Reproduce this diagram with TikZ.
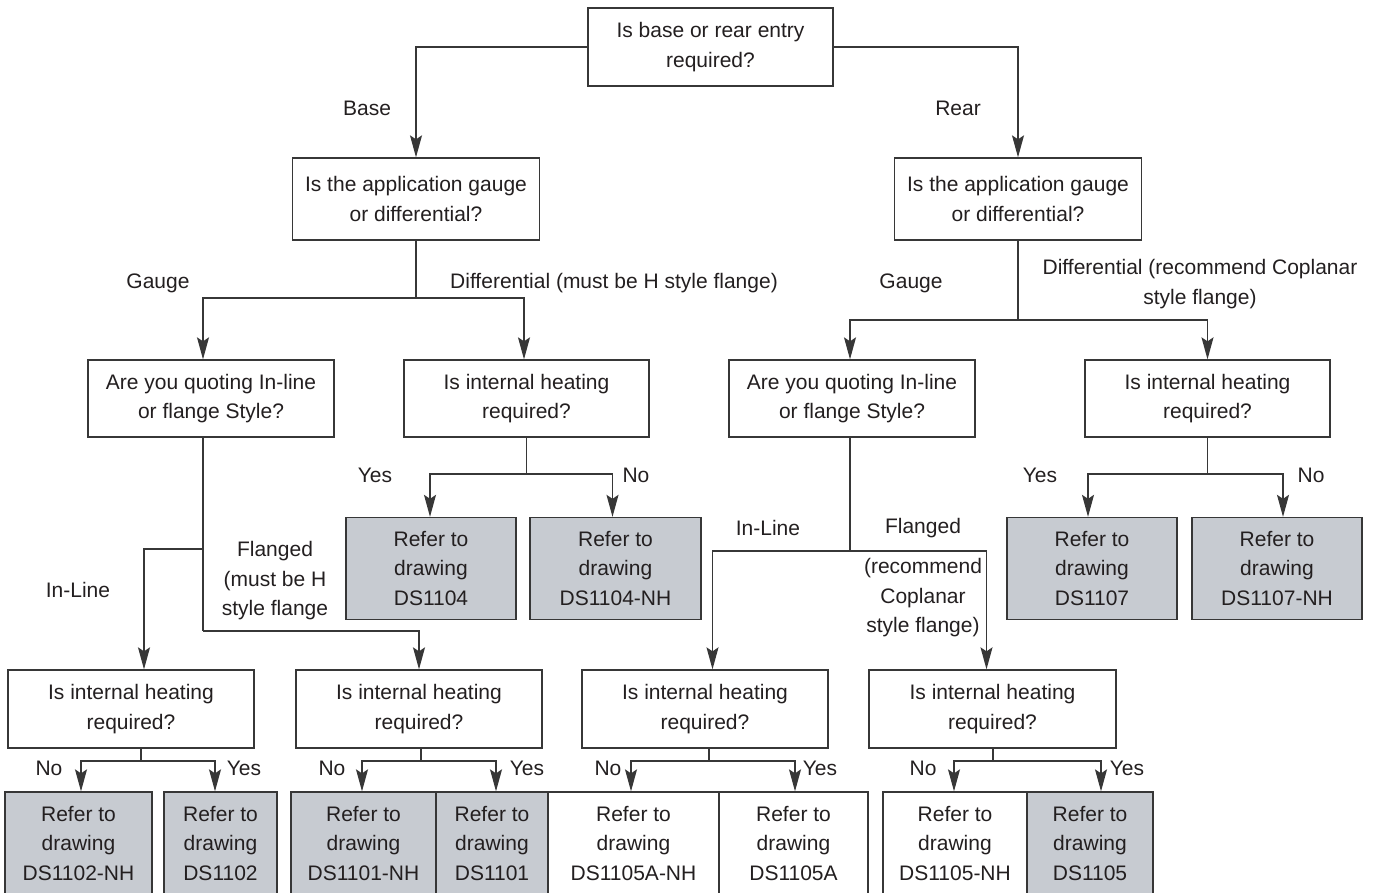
\documentclass[tikz,border=0pt]{standalone}
\usepackage{fontspec}
\setmainfont{Liberation Sans}
\usetikzlibrary{arrows.meta}
\definecolor{leafgray}{RGB}{199,203,209}
\definecolor{linec}{RGB}{55,55,55}
\definecolor{textc}{RGB}{35,31,32}
\tikzset{
  every node/.style={font=\fontsize{21}{29.5}\selectfont, text=textc},
  qbox/.style={draw=linec, line width=1.3pt, fill=white, align=center, inner sep=0pt},
  leaf/.style={qbox, fill=leafgray},
  wleaf/.style={qbox, fill=white},
  lbl/.style={align=center, inner sep=0pt},
  conn/.style={draw=linec, line width=1.3pt},
  arr/.style={conn, -{Stealth[length=22pt,width=12pt,inset=4pt]}}
}
\begin{document}
\begin{tikzpicture}[x=1pt,y=-1pt]
\useasboundingbox (0,0) rectangle (1373,893);
\begin{scope}
\clip (0,0) rectangle (1373,893);
% question boxes
\node[qbox, minimum width=245, minimum height=78] (top) at (710.5,47) {Is base or rear entry\\required?};
\node[qbox, minimum width=247, minimum height=82] (lapp) at (416,199) {Is the application gauge\\or differential?};
\node[qbox, minimum width=247, minimum height=82] (rapp) at (1018,199) {Is the application gauge\\or differential?};
\node[qbox, minimum width=246, minimum height=77] (lq) at (211,398.5) {Are you quoting In-line\\or flange Style?};
\node[qbox, minimum width=245, minimum height=77] (lh) at (526.5,398.5) {Is internal heating\\required?};
\node[qbox, minimum width=246, minimum height=77] (rq) at (852,398.5) {Are you quoting In-line\\or flange Style?};
\node[qbox, minimum width=245, minimum height=77] (rh) at (1207.5,398.5) {Is internal heating\\required?};
\node[qbox, minimum width=246, minimum height=78] (b1) at (131,709) {Is internal heating\\required?};
\node[qbox, minimum width=246, minimum height=78] (b2) at (419,709) {Is internal heating\\required?};
\node[qbox, minimum width=246, minimum height=78] (b3) at (705,709) {Is internal heating\\required?};
\node[qbox, minimum width=247, minimum height=78] (b4) at (992.5,709) {Is internal heating\\required?};
% middle leaves
\node[leaf, minimum width=170, minimum height=102] (d1104) at (431,568.5) {Refer to\\drawing\\DS1104};
\node[leaf, minimum width=171, minimum height=102] (d1104nh) at (615.5,568.5) {Refer to\\drawing\\DS1104-NH};
\node[leaf, minimum width=170, minimum height=102] (d1107) at (1092,568.5) {Refer to\\drawing\\DS1107};
\node[leaf, minimum width=170, minimum height=102] (d1107nh) at (1277,568.5) {Refer to\\drawing\\DS1107-NH};
% bottom leaves
\node[leaf, minimum width=147, minimum height=102] (l1) at (78.5,843) {Refer to\\drawing\\DS1102-NH};
\node[leaf, minimum width=113, minimum height=102] (l2) at (220.5,843) {Refer to\\drawing\\DS1102};
\node[leaf, minimum width=145, minimum height=102] (l3) at (363.5,843) {Refer to\\drawing\\DS1101-NH};
\node[leaf, minimum width=112, minimum height=102] (l4) at (492,843) {Refer to\\drawing\\DS1101};
\node[wleaf, minimum width=171, minimum height=102] (l5) at (633.5,843) {Refer to\\drawing\\DS1105A-NH};
\node[wleaf, minimum width=149, minimum height=102] (l6) at (793.5,843) {Refer to\\drawing\\DS1105A};
\node[wleaf, minimum width=144, minimum height=102] (l7) at (955,843) {Refer to\\drawing\\DS1105-NH};
\node[leaf, minimum width=126, minimum height=102] (l8) at (1090,843) {Refer to\\drawing\\DS1105};
% top connectors
\draw[arr] (top.west) -| (lapp.north);
\draw[arr] (top.east) -| (rapp.north);
\node[lbl] (tbase) at (367,108) {Base};
\node[lbl] (trear) at (958,108) {Rear};
% left application
\coordinate (j1) at (416,298);
\draw[conn] (lapp.south) -- (j1);
\draw[arr] (j1) -| ([xshift=-8pt]lq.north);
\draw[arr] (j1) -| ([xshift=-2.5pt]lh.north);
\node[lbl] (lgauge) at (158,283) {Gauge};
\node[lbl] (ldiff) at (614,283) {Differential (must be H style flange)};
% right application
\coordinate (j2) at (1018,320);
\draw[conn] (rapp.south) -- (j2);
\draw[arr] (j2) -| ([xshift=-2pt]rq.north);
\draw[arr] (j2) -| (rh.north);
\node[lbl] (rgauge) at (911,283) {Gauge};
\node[lbl] (rdiff) at (1200,284) {Differential (recommend Coplanar\\style flange)};
% left heating
\coordinate (j3) at (526.5,474);
\draw[conn] (lh.south) -- (j3);
\draw[arr] (j3) -| ([xshift=-1pt]d1104.north);
\draw[arr] (j3) -| ([xshift=-3pt]d1104nh.north);
\node[lbl] (ly) at (375,475) {Yes};
\node[lbl] (ln) at (636,475) {No};
% right heating
\coordinate (j4) at (1207.5,474);
\draw[conn] (rh.south) -- (j4);
\draw[arr] (j4) -| ([xshift=-4pt]d1107.north);
\draw[arr] (j4) -| ([xshift=6pt]d1107nh.north);
\node[lbl] (ry) at (1040,475) {Yes};
\node[lbl] (rn) at (1311,475) {No};
% left quoting
\coordinate (j5) at (203,549);
\coordinate (j6) at (203,631);
\draw[conn] ([xshift=-8pt]lq.south) -- (j6);
\draw[arr] (j5) -| ([xshift=13pt]b1.north);
\draw[arr] (j6) -| (b2.north);
\node[lbl] (linl) at (78,590) {In-Line};
\node[lbl] (lfl) at (275,581) {Flanged\\(must be H\\style flange};
% right quoting
\coordinate (j7) at (850,551);
\draw[conn] ([xshift=-2pt]rq.south) -- (j7);
\draw[arr] (j7) -| ([xshift=7.5pt]b3.north);
\draw[arr] (j7) -| ([xshift=-6pt]b4.north);
\node[lbl] (rinl) at (768,528) {In-Line};
\node[lbl] (rfl) at (923,528) {Flanged};
\node[lbl] (rfl2) at (923,598) {(recommend\\Coplanar\\style flange)};
% bottom groups
\coordinate (k1) at (141,761);
\draw[conn] ([xshift=10pt]b1.south) -- (k1);
\draw[arr] (k1) -| ([xshift=2.5pt]l1.north);
\draw[arr] (k1) -| ([xshift=-5.5pt]l2.north);
\coordinate (k2) at (421,761);
\draw[conn] ([xshift=2pt]b2.south) -- (k2);
\draw[arr] (k2) -| ([xshift=-1.5pt]l3.north);
\draw[arr] (k2) -| ([xshift=4pt]l4.north);
\coordinate (k3) at (709,761);
\draw[conn] ([xshift=4pt]b3.south) -- (k3);
\draw[arr] (k3) -| ([xshift=-2.5pt]l5.north);
\draw[arr] (k3) -| ([xshift=1.5pt]l6.north);
\coordinate (k4) at (993,761);
\draw[conn] ([xshift=0.5pt]b4.south) -- (k4);
\draw[arr] (k4) -| ([xshift=-1pt]l7.north);
\draw[arr] (k4) -| ([xshift=11pt]l8.north);
\node[lbl] (n1) at (49,768) {No};
\node[lbl] (y1) at (244,768) {Yes};
\node[lbl] (n2) at (332,768) {No};
\node[lbl] (y2) at (527,768) {Yes};
\node[lbl] (n3) at (608,768) {No};
\node[lbl] (y3) at (820,768) {Yes};
\node[lbl] (n4) at (923,768) {No};
\node[lbl] (y4) at (1127,768) {Yes};
\end{scope}
\end{tikzpicture}
\end{document}
